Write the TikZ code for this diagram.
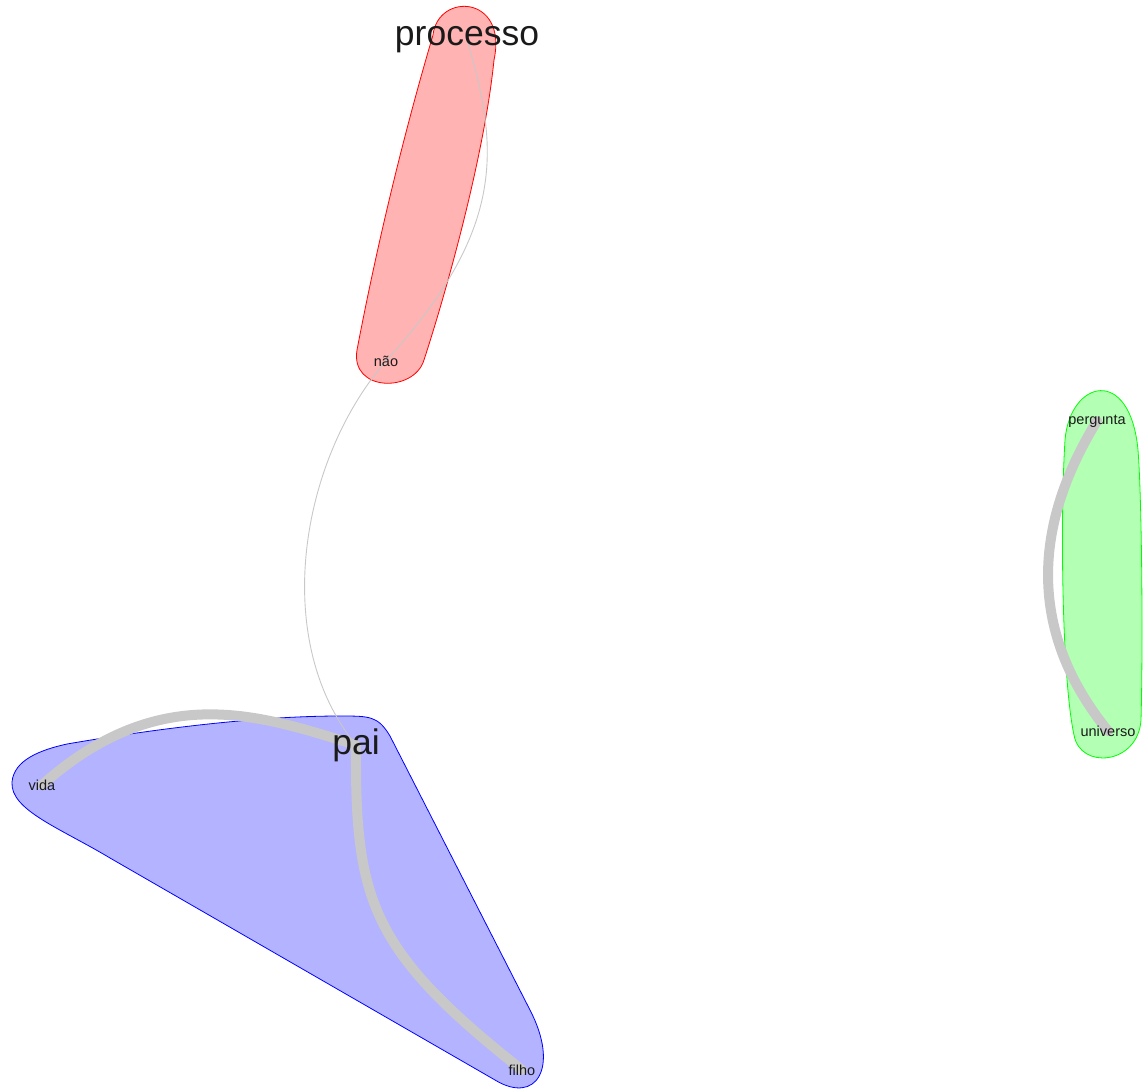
\documentclass[tikz,border=0pt]{standalone}
\usepackage{fontspec}
\setmainfont{Liberation Sans}
\definecolor{redfill}{RGB}{255,179,179}
\definecolor{greenfill}{RGB}{179,255,179}
\definecolor{bluefill}{RGB}{179,179,255}
\definecolor{redline}{RGB}{255,0,0}
\definecolor{greenline}{RGB}{0,255,0}
\definecolor{blueline}{RGB}{0,0,255}
\definecolor{edgegray}{RGB}{200,200,200}
\definecolor{lbl}{RGB}{26,26,26}
\pgfdeclarelayer{groups}
\pgfdeclarelayer{edges}
\pgfsetlayers{groups,edges,main}
\tikzset{
  grp/.style={line width=0.8pt, line join=round},
  thinedge/.style={draw=edgegray, line width=0.9pt},
  thickedge/.style={draw=edgegray, line width=10pt, line cap=round},
  biglabel/.style={inner sep=0pt, font=\fontsize{35.5}{40}\selectfont, text=lbl},
  smalllabel/.style={inner sep=0pt, font=\fontsize{14.5}{16}\selectfont, text=lbl},
}
\begin{document}
\begin{tikzpicture}[x=1pt, y=-1pt]
\useasboundingbox (0,0) rectangle (1144,1092);
% vertices (labels)
\node[biglabel] (processo) at (467,40) {processo};
\node[smalllabel] (nao) at (386,361) {não};
\node[biglabel] (pai) at (356,745) {pai};
\node[smalllabel] (vida) at (42,785) {vida};
\node[smalllabel] (filho) at (522,1070) {filho};
\node[smalllabel] (pergunta) at (1097,421) {pergunta};
\node[smalllabel] (universo) at (1108,731) {universo};
% groups
\begin{pgfonlayer}{groups}
\draw[grp, fill=redfill, draw=redline]
  (494,60) .. controls (485,150) and (450,280) .. (424,360)
  .. controls (414,393) and (350,392) .. (357,350)
  .. controls (376,250) and (402,140) .. (433,35)
  .. controls (438,-8) and (508,-5) .. (494,60) -- cycle;
\draw[grp, fill=greenfill, draw=greenline]
  (1065,440) .. controls (1070,380) and (1130,365) .. (1138,450)
  .. controls (1142,500) and (1143,650) .. (1141,720)
  .. controls (1138,765) and (1080,770) .. (1074,735)
  .. controls (1062,680) and (1060,520) .. (1065,440) -- cycle;
\draw[grp, fill=bluefill, draw=blueline]
  (67,744) .. controls (160,728) and (260,716) .. (340,716)
  .. controls (370,716) and (378,716) .. (390,736)
  -- (530,1010) .. controls (560,1068) and (536,1105) .. (495,1080)
  -- (110,858) .. controls (60,828) and (10,810) .. (12,782)
  .. controls (14,760) and (40,750) .. (67,744) -- cycle;
\end{pgfonlayer}
% edges
\begin{pgfonlayer}{edges}
\draw[thinedge] (processo.center) .. controls (500,150) and (505,230) .. (nao.center);
\draw[thinedge] (nao.center) .. controls (300,460) and (270,640) .. (pai.center);
\draw[thickedge] (pai.center) .. controls (260,715) and (160,680) .. (vida.center);
\draw[thickedge] (pai.center) .. controls (355,900) and (370,950) .. (filho.center);
\draw[thickedge] (pergunta.center) .. controls (1030,530) and (1030,635) .. (universo.center);
\end{pgfonlayer}
\end{tikzpicture}
\end{document}
